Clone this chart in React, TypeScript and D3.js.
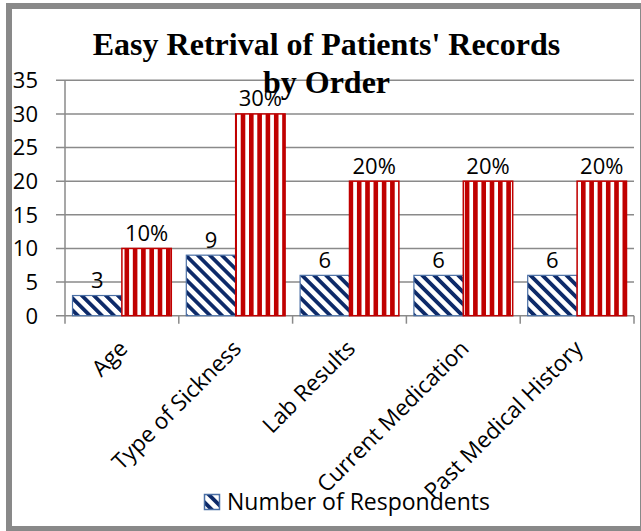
import React from "react";
import * as d3 from "d3";

const categories = ["Age", "Type of Sickness", "Lab Results", "Current Medication", "Past Medical History"];
const respondents = [3, 9, 6, 6, 6];
const percentages = [10, 30, 20, 20, 20];
const yTicks = [0, 5, 10, 15, 20, 25, 30, 35];
const titleLines = ["Easy Retrival of Patients' Records", "by Order"];
const legendLabel = "Number of Respondents";

const W = 641;
const H = 531;
const LABEL_FONT = "'Open Sans', sans-serif";

export default function App() {
  const x0 = d3.scaleBand<string>().domain(categories).range([65, 634]).padding(0);
  const x1 = d3
    .scaleBand<string>()
    .domain(["resp", "pct"])
    .range([0, x0.bandwidth()])
    .paddingInner(0)
    .paddingOuter(0.152);
  const y = d3.scaleLinear().domain([0, 35]).range([315.7, 80.3]);

  const grid = "#8a8a8a";

  return (
    <svg
      width={W}
      height={H}
      style={{ position: "absolute", left: 0, top: 0, display: "block" }}
      xmlns="http://www.w3.org/2000/svg"
    >
      <defs>
        <pattern id="diag" patternUnits="userSpaceOnUse" width={8.5} height={8.5} patternTransform="rotate(-45)">
          <rect x={0} y={0} width={8.5} height={8.5} fill="#ffffff" />
          <rect x={0} y={0} width={3.8} height={8.5} fill="#0d2a69" />
        </pattern>
        <pattern id="vert" patternUnits="userSpaceOnUse" width={8.3} height={10} x={0}>
          <rect x={0} y={0} width={8.3} height={10} fill="#ffffff" />
          <rect x={0} y={0} width={4.6} height={10} fill="#c00000" />
        </pattern>
      </defs>

      <rect x={9} y={6} width={634} height={523} fill="#ffffff" stroke="#898989" strokeWidth={6} />

      {/* gridlines */}
      {yTicks.map((t) => (
        <line key={"g" + t} x1={56} x2={634} y1={y(t)} y2={y(t)} stroke={grid} strokeWidth={1.5} />
      ))}
      {/* y axis */}
      <line x1={65} x2={65} y1={y(35)} y2={y(0) + 8} stroke={grid} strokeWidth={1.5} />
      {/* x ticks */}
      {categories.map((c) => (
        <line
          key={"t" + c}
          x1={(x0(c) as number) + x0.bandwidth()}
          x2={(x0(c) as number) + x0.bandwidth()}
          y1={y(0)}
          y2={y(0) + 8}
          stroke={grid}
          strokeWidth={1.5}
        />
      ))}

      {/* y labels */}
      {yTicks.map((t) => (
        <text
          key={"yl" + t}
          x={38}
          y={y(t)}
          dy="0.36em"
          textAnchor="end"
          fontFamily={LABEL_FONT}
          fontSize={22}
          fill="#000"
        >
          {t}
        </text>
      ))}

      {/* bars */}
      {categories.map((c, i) => {
        const bx = x0(c) as number;
        const rx = bx + (x1("resp") as number);
        const px = bx + (x1("pct") as number);
        const bw = x1.bandwidth();
        return (
          <g key={"b" + c}>
            <rect
              x={rx}
              y={y(respondents[i])}
              width={bw}
              height={y(0) - y(respondents[i])}
              fill="url(#diag)"
              stroke="#4a6fa5"
              strokeWidth={1.2}
            />
            <rect
              x={px}
              y={y(percentages[i])}
              width={bw}
              height={y(0) - y(percentages[i])}
              fill="url(#vert)"
              stroke="#c00000"
              strokeWidth={1.5}
            />
            <text
              x={rx + bw / 2}
              y={y(respondents[i]) - 7.5}
              textAnchor="middle"
              fontFamily={LABEL_FONT}
              fontSize={22}
              fill="#000"
            >
              {respondents[i]}
            </text>
            <text
              x={px + bw / 2}
              y={y(percentages[i]) - 7.5}
              textAnchor="middle"
              fontFamily={LABEL_FONT}
              fontSize={22}
              fill="#000"
            >
              {percentages[i] + "%"}
            </text>
          </g>
        );
      })}

      {/* category labels */}
      {categories.map((c) => {
        const ax = (x0(c) as number) + x0.bandwidth() / 2 + 7;
        const ay = 350;
        return (
          <text
            key={"cl" + c}
            transform={`translate(${ax},${ay}) rotate(-45)`}
            textAnchor="end"
            fontFamily={LABEL_FONT}
            fontSize={22.5}
            fill="#000"
          >
            {c}
          </text>
        );
      })}

      {/* title */}
      {titleLines.map((l, i) => (
        <text
          key={"ti" + i}
          x={326.5}
          y={55 + i * 37.7}
          textAnchor="middle"
          fontFamily="'Liberation Serif', 'Times New Roman', serif"
          fontWeight="bold"
          fontSize={32}
          fill="#000"
        >
          {l}
        </text>
      ))}

      {/* legend */}
      <rect x={204.5} y={494.5} width={15} height={15} fill="url(#diag)" stroke="#4a6fa5" strokeWidth={1.5} />
      <text x={227} y={510} fontFamily={LABEL_FONT} fontSize={23} fill="#000">
        {legendLabel}
      </text>
    </svg>
  );
}
